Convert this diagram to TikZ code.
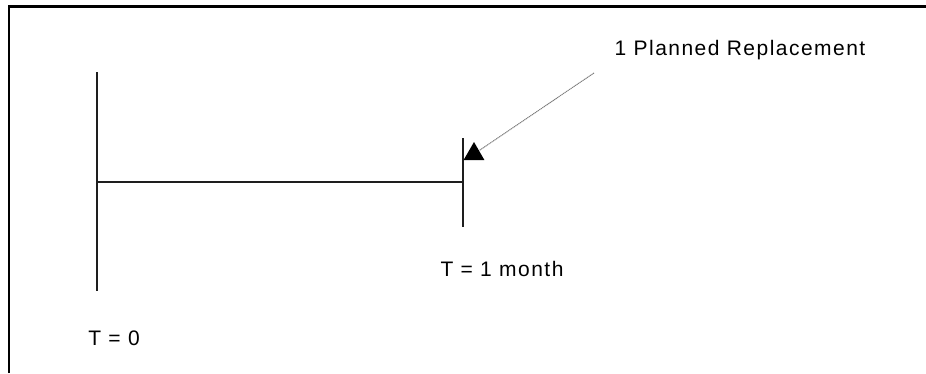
\documentclass[tikz,border=0pt]{standalone}
\usepackage{fontspec}
\setmainfont{Liberation Sans}[LetterSpace=7]
\usetikzlibrary{shapes.geometric}
\definecolor{grigioLinea}{RGB}{30, 30, 30}

\begin{document}
\begin{tikzpicture}[x=1pt, y=-1pt, font=\fontsize{21}{24}\selectfont]
                \useasboundingbox (0,0) rectangle (926,373);

                % Frame (left and top edge only)
                \draw[black, line width=2.2pt] (9,373) -- (9,6.5) -- (926,6.5);

                % Time line
                \coordinate (zeroTop) at (97,72);
                \coordinate (zeroBot) at (97,291);
                \coordinate (zeroMid) at (97,182);
                \coordinate (oneTop) at (463,138);
                \coordinate (oneBot) at (463,227);
                \coordinate (oneMid) at (463,182);
                \draw[grigioLinea, line width=2pt] (zeroTop) -- (zeroBot);
                \draw[grigioLinea, line width=2pt] (zeroMid) -- (oneMid);
                \draw[grigioLinea, line width=2pt] (oneTop) -- (oneBot);

                % Labels
                \node (tZero) at (114,338) {T = 0};
                \node (tOne) at (502,269) {T = 1 month};
                \node (planned) at (740,50) {1 Planned Replacement};

                % Replacement marker (triangle) and pointer
                \node[regular polygon, regular polygon sides=3, fill=black, minimum size=24pt, inner sep=0pt] (tip) at (474,154) {};
                \coordinate (pointerStart) at (594,73);
                \draw[gray, line width=1pt, dash pattern=on 1.2pt off 0.6pt] (pointerStart) -- (tip);
\end{tikzpicture}
\end{document}
